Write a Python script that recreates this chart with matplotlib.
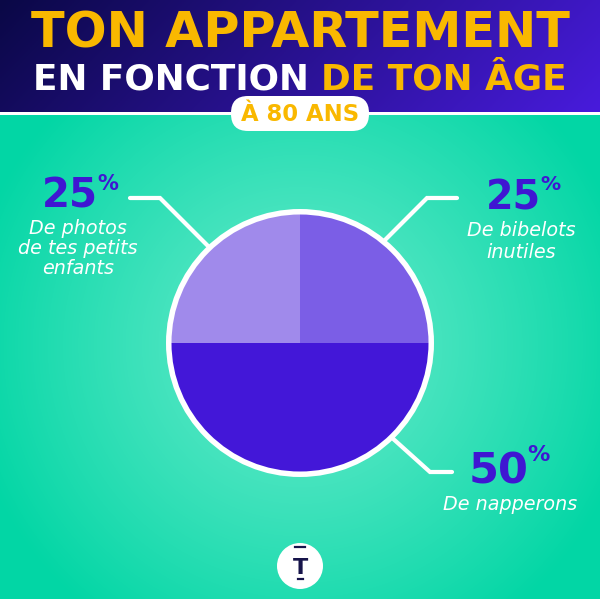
import numpy as np
import matplotlib
matplotlib.use("Agg")
import matplotlib.pyplot as plt
from matplotlib.patches import Circle, FancyBboxPatch

# ---- data ----
categories = ["De bibelots\ninutiles", "De napperons", "De photos\nde tes petits\nenfants"]
values = [25, 50, 25]
pct_labels = ["25", "50", "25"]
wedge_colors = ["#7b5ee6", "#4317d8", "#a08aeb"]
title_line1 = "TON APPARTEMENT"
title_line2a = "EN FONCTION "
title_line2b = "DE TON ÂGE"
badge = "À 80 ANS"

W, H = 600, 599
fig = plt.figure(figsize=(W / 100, H / 100), dpi=100)
ax = fig.add_axes([0, 0, 1, 1])
ax.set_xlim(0, W)
ax.set_ylim(H, 0)
ax.axis("off")

# ---- background: green radial gradient ----
yy, xx = np.mgrid[0:H, 0:W]
r = np.sqrt((xx - 300) ** 2 + (yy - 345) ** 2) / 340.0
r = np.clip(r, 0, 1)
c0 = np.array([0x66, 0xea, 0xca]) / 255
c1 = np.array([0x02, 0xd6, 0xa5]) / 255
t = r[..., None] ** 1.2
bg = c0 * (1 - t) + c1 * t
ax.imshow(bg, extent=(0, W, H, 0), zorder=0, aspect="auto")

# ---- header gradient ----
hx = np.linspace(0, 1, 300)
hy = np.linspace(0, 1, 60)
HX, HY = np.meshgrid(hx, hy)
s = np.clip(0.85 * HX + 0.15 * HY, 0, 1)
h0 = np.array([0x0a, 0x08, 0x46]) / 255
h1 = np.array([0x48, 0x1b, 0xdc]) / 255
hdr = h0 * (1 - s[..., None]) + h1 * s[..., None]
ax.imshow(hdr, extent=(0, W, 112, 0), zorder=1, aspect="auto")
ax.fill_between([0, W], 112, 115, color="white", zorder=2, lw=0)

renderer = fig.canvas.get_renderer()

def fit_width(txt, target):
    bb = txt.get_window_extent(renderer)
    txt.set_fontsize(txt.get_fontsize() * target / bb.width)

YEL = "#f9b800"
PUR = "#3f16d2"

# title
t1 = ax.text(300, 48, title_line1, ha="center", va="baseline", color=YEL,
             fontsize=30, fontweight="bold", family="DejaVu Sans", zorder=3)
fit_width(t1, 540)

t2a = ax.text(0, 89, title_line2a, ha="left", va="baseline", color="white",
              fontsize=24, fontweight="bold", family="DejaVu Sans", zorder=3)
t2b = ax.text(0, 89, title_line2b, ha="left", va="baseline", color=YEL,
              fontsize=24, fontweight="bold", family="DejaVu Sans", zorder=3)
wa = t2a.get_window_extent(renderer).width
wb = t2b.get_window_extent(renderer).width
k = 536 / (wa + wb)
t2a.set_fontsize(24 * k)
t2b.set_fontsize(24 * k)
wa = t2a.get_window_extent(renderer).width
wb = t2b.get_window_extent(renderer).width
x0 = 300 - (wa + wb) / 2
t2a.set_x(x0)
t2b.set_x(x0 + wa)

# badge pill
pill = FancyBboxPatch((231, 96), 138, 35,
                      boxstyle="round,pad=0,rounding_size=17",
                      fc="white", ec="none", zorder=3)
ax.add_patch(pill)
tb = ax.text(300, 121, badge, ha="center", va="baseline", color=YEL,
             fontsize=14, fontweight="bold", family="DejaVu Sans", zorder=4)
fit_width(tb, 118)

# ---- leader lines ----
lw = 4.2 * 0.72
ax.plot([130, 160, 215], [198, 198, 253], color="white", lw=lw, zorder=3,
        solid_capstyle="round", solid_joinstyle="miter")
ax.plot([457, 427, 380], [198, 198, 245], color="white", lw=lw, zorder=3,
        solid_capstyle="round", solid_joinstyle="miter")
ax.plot([452, 430, 380], [472, 472, 427], color="white", lw=lw, zorder=3,
        solid_capstyle="round", solid_joinstyle="miter")

# ---- pie ----
R = 128.5
lim = 1.1
cx, cy = 300, 343
ax2 = fig.add_axes([(cx - lim * R) / W, (H - cy - lim * R) / H,
                    2 * lim * R / W, 2 * lim * R / H])
ax2.patch.set_alpha(0)
ax2.add_patch(Circle((0, 0), 134 / R, fc="white", ec="none", zorder=0))
ax2.pie(values, colors=wedge_colors, startangle=90, counterclock=False,
        radius=1, wedgeprops=dict(linewidth=0))
ax2.set_xlim(-lim, lim)
ax2.set_ylim(-lim, lim)
ax2.set_aspect("auto")
ax2.axis("off")

# ---- labels ----
def pct(x_right, base, num, pct_top, fs, pfs):
    ax.text(x_right, base, num, ha="right", va="baseline", color=PUR,
            fontsize=fs, fontweight="heavy", family="DejaVu Sans", zorder=5)
    ax.text(x_right - 1, pct_top, "%", ha="left", va="top", color=PUR,
            fontsize=pfs, fontweight="bold", family="DejaVu Sans", zorder=5)

pct(98, 207, pct_labels[2], 174, 29, 15)
pct(541, 210, pct_labels[0], 175, 28.5, 14.5)
pct(528, 483, pct_labels[1], 445, 31, 16)

def lab(x, bases, text, fs=13.8):
    for b, line in zip(bases, text.split("\n")):
        ax.text(x, b, line, ha="center", va="baseline", color="white",
                fontsize=fs, style="italic", family="DejaVu Sans", zorder=5)

lab(78, [234, 254, 274], categories[2])
lab(521, [236, 258], categories[0])
lab(510, [510], categories[1])

# ---- logo ----
ax.add_patch(Circle((300, 566), 23, fc="white", ec="none", zorder=5))
NAVY = "#16144a"
ax.plot([295, 305], [547, 547], color=NAVY, lw=1.6, zorder=6)
ax.plot([297.5, 303], [579, 579], color=NAVY, lw=1.6, zorder=6)
ax.text(300.5, 574, "T", ha="center", va="baseline", color=NAVY,
        fontsize=16, fontweight="bold", family="DejaVu Sans", zorder=6)

fig.savefig("out.png", dpi=100)
